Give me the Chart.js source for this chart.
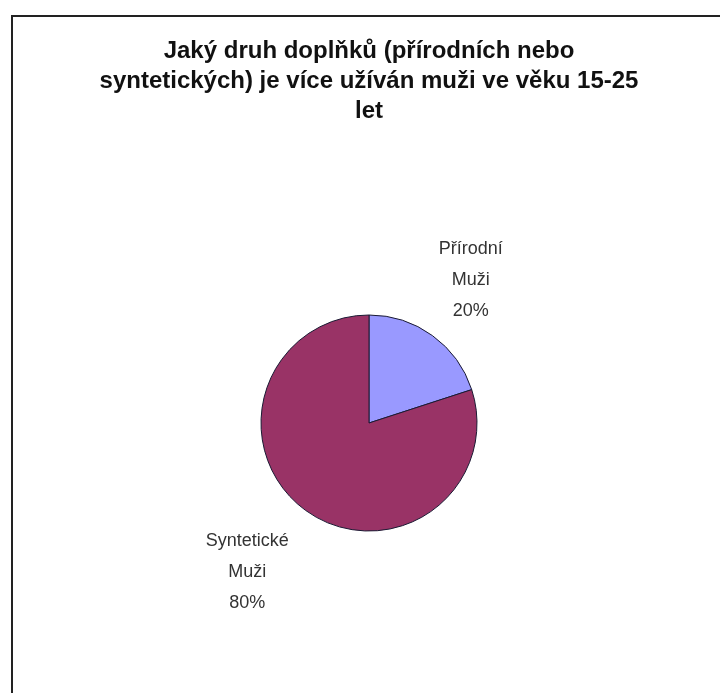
<!DOCTYPE html>
<html>
<head>
<meta charset="utf-8">
<script src="https://cdn.jsdelivr.net/npm/chart.js@4"></script>
<style>
  html, body { margin: 0; padding: 0; background: #fff; }
  #wrap { width: 720px; height: 693px; }
</style>
</head>
<body>
<div id="wrap"><canvas id="pieChart" width="720" height="693"></canvas></div>
<script>
const categories = ["Přírodní", "Syntetické"];
const series = ["Muži", "Muži"];
const values = [20, 80];
const sliceColors = ["#9999ff", "#993366"];
const titleLines = [
  "Jaký druh doplňků (přírodních nebo",
  "syntetických) je více užíván muži ve věku 15-25",
  "let",
];

// frame around the chart, only left and top edges are in view
const framePlugin = {
  id: "frame",
  beforeDraw(chart) {
    const c = chart.ctx;
    c.save();
    c.strokeStyle = "#222";
    c.lineWidth = 2;
    c.beginPath();
    c.moveTo(12, chart.height);
    c.lineTo(12, 16);
    c.lineTo(chart.width, 16);
    c.stroke();
    c.restore();
  },
};

// labels outside of the slices: category, series, percent
const outLabels = {
  id: "outLabels",
  afterDatasetsDraw(chart) {
    const c = chart.ctx;
    const meta = chart.getDatasetMeta(0);
    const total = values.reduce((a, b) => a + b, 0);
    c.save();
    c.font = "18px 'Liberation Sans', Arial, sans-serif";
    c.fillStyle = "#333";
    c.textAlign = "center";
    c.textBaseline = "middle";
    meta.data.forEach((arc, i) => {
      const mid = (arc.startAngle + arc.endAngle) / 2;
      const cx = arc.x + Math.cos(mid) * 190 - 10;
      const cy = arc.y + Math.sin(mid) * 181 + 3;
      const lines = [
        categories[i],
        series[i],
        Math.round((values[i] / total) * 100) + "%",
      ];
      lines.forEach((t, k) => c.fillText(t, cx, cy + (k - 1) * 31));
    });
    c.restore();
  },
};

new Chart(document.getElementById("pieChart"), {
  type: "pie",
  data: {
    labels: categories,
    datasets: [
      {
        data: values,
        backgroundColor: sliceColors,
        borderColor: "#1a1a33",
        borderWidth: 1,
        radius: 108,
      },
    ],
  },
  options: {
    responsive: false,
    animation: false,
    layout: { padding: { left: 18, right: 0, top: 0, bottom: 0 } },
    plugins: {
      legend: { display: false },
      tooltip: { enabled: false },
      title: {
        display: true,
        text: titleLines,
        color: "#111",
        font: { family: "'Liberation Sans', Arial, sans-serif", size: 24, weight: "bold", lineHeight: "30px" },
        padding: { top: 36, bottom: 27 },
      },
    },
  },
  plugins: [framePlugin, outLabels],
});
</script>
</body>
</html>
